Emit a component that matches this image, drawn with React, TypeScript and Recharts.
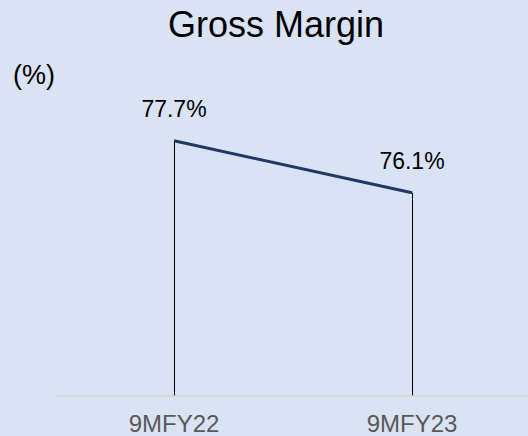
import React from "react";
import { ComposedChart, Line, Bar, XAxis, YAxis, LabelList } from "recharts";

const categories = ["9MFY22", "9MFY23"];
const grossMargin = [77.7, 76.1];
const valueLabels = ["77.7%", "76.1%"];

const data = categories.map((c, i) => ({ name: c, value: grossMargin[i], label: valueLabels[i] }));

const FONT = "'Liberation Sans', Arial, sans-serif";
const BG = "#dae3f3";

export default function App() {
  return (
    <div style={{ position: "absolute", left: 0, top: 0, width: 528, height: 436, overflow: "hidden", background: BG }}>
      <ComposedChart
        width={531}
        height={436}
        data={data}
        margin={{ top: 66, right: 0, bottom: 10, left: 55 }}
        style={{ fontFamily: FONT }}
      >
        <YAxis hide domain={[69.85, 80]} allowDataOverflow />
        <XAxis
          dataKey="name"
          axisLine={{ stroke: "#d9d6cf", strokeWidth: 1.5 }}
          tickLine={false}
          tickSize={6}
          tickMargin={13}
          tick={{ fill: "#595959", fontSize: 24, fontFamily: FONT }}
        />
        <Bar dataKey="value" barSize={1} fill="#000000" isAnimationActive={false} />
        <Line
          dataKey="value"
          stroke="#203864"
          strokeWidth={3}
          dot={false}
          activeDot={false}
          isAnimationActive={false}
        >
          <LabelList dataKey="label" position="top" offset={24} fill="#000000" fontSize={23} fontFamily={FONT} />
        </Line>
      </ComposedChart>
      <svg width={528} height={436} style={{ position: "absolute", left: 0, top: 0, pointerEvents: "none" }}>
        <text x={276} y={37} textAnchor="middle" fontSize={36} fontFamily={FONT} fill="#000">Gross Margin</text>
        <text x={13} y={84} fontSize={27} fontFamily={FONT} fill="#000">(%)</text>
      </svg>
    </div>
  );
}
